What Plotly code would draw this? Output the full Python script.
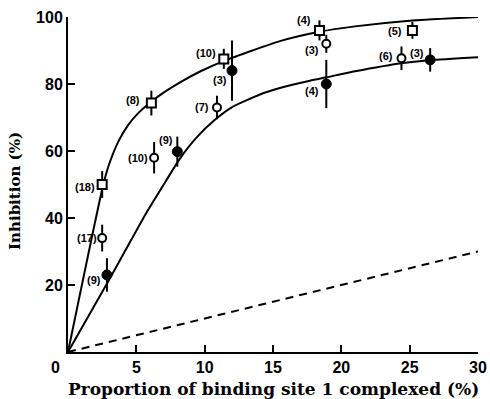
import plotly.graph_objects as go

# Measured points: proportion complexed (%), inhibition (%), error, number of experiments
sq_x = [2.5, 6.1, 11.4, 18.4, 25.2]
sq_y = [50.0, 74.3, 87.5, 96.0, 96.0]
sq_err = [4.0, 3.7, 3.0, 3.0, 2.5]
sq_n = [18, 8, 10, 4, 5]

oc_x = [2.5, 6.3, 10.9, 18.9, 24.4]
oc_y = [34.0, 58.0, 73.0, 92.0, 87.7]
oc_err = [4.0, 4.7, 3.5, 2.7, 3.5]
oc_n = [17, 10, 7, 3, 6]

fc_x = [2.85, 8.0, 12.0, 18.9, 26.5]
fc_y = [23.0, 59.8, 84.0, 80.0, 87.2]
fc_err = [5.0, 4.5, 9.0, 7.2, 3.5]
fc_n = [9, 9, 3, 4, 3]

# Fitted curves
upper_x = [0, 2.57, 3.07, 3.68, 4.41, 5.14, 6.0, 7.1, 8.2, 9.7, 11.6, 13.5, 15.5, 18.4, 21.0, 25.0, 30.0]
upper_y = [0, 49.8, 56.8, 62.8, 67.8, 71.3, 74.4, 77.7, 80.5, 83.8, 87.2, 90.0, 92.8, 95.6, 97.2, 98.9, 100.0]
lower_x = [0, 3.0, 5.8, 7.2, 8.2, 9.4, 10.75, 12.1, 14.0, 15.5, 17.7, 18.9, 21.0, 24.4, 26.5, 30.0]
lower_y = [0, 21.5, 42.0, 51.3, 57.8, 64.0, 69.3, 73.3, 76.8, 78.8, 81.0, 82.0, 83.8, 86.2, 87.1, 88.0]
dash_x = [0, 30]
dash_y = [0, 30]

x_ticks = [5, 10, 15, 20, 25, 30]
y_ticks = [20, 40, 60, 80, 100]

# Label offsets (pixels) for the experiment counts
sq_off = [(-17, -2), (-18, 3), (-18, 6), (-15, 10), (-17, -1)]
oc_off = [(-15, 0), (-16, 0), (-15, 0), (-14, -6), (-15, 2)]
fc_off = [(-13, -5), (-11, 12), (-12, -9), (-14, -7), (-13, 7)]

fig = go.Figure()

curve_line = dict(color="black", width=2, shape="spline", smoothing=0.5)
fig.add_trace(go.Scatter(x=upper_x, y=upper_y, mode="lines", line=curve_line))
fig.add_trace(go.Scatter(x=lower_x, y=lower_y, mode="lines", line=curve_line))
fig.add_trace(go.Scatter(x=dash_x, y=dash_y, mode="lines",
                         line=dict(color="black", width=2, dash="8px,6px")))

err_style = dict(type="data", thickness=2, width=0, color="black")

fig.add_trace(go.Scatter(
    x=sq_x, y=sq_y, mode="markers", cliponaxis=False,
    error_y=dict(array=sq_err, **err_style),
    marker=dict(symbol="square", size=9, color="white", line=dict(color="black", width=2))))
fig.add_trace(go.Scatter(
    x=oc_x, y=oc_y, mode="markers", cliponaxis=False,
    error_y=dict(array=oc_err, **err_style),
    marker=dict(symbol="circle", size=8, color="white", line=dict(color="black", width=2))))
fig.add_trace(go.Scatter(
    x=fc_x, y=fc_y, mode="markers", cliponaxis=False,
    error_y=dict(array=fc_err, **err_style),
    marker=dict(symbol="circle", size=10, color="black", line=dict(color="black", width=1))))

label_font = dict(family="Liberation Sans", size=11, color="black", weight="bold")
for xs, ys, ns, offs in [(sq_x, sq_y, sq_n, sq_off), (oc_x, oc_y, oc_n, oc_off),
                         (fc_x, fc_y, fc_n, fc_off)]:
    for x, y, n, (dx, dy) in zip(xs, ys, ns, offs):
        fig.add_annotation(x=x, y=y, text=f"({n})", showarrow=False,
                           xshift=dx, yshift=dy, xanchor="center", yanchor="middle",
                           font=label_font)

tick_font = dict(family="Liberation Sans", size=16, color="black", weight="bold")
axis_common = dict(ticks="inside", ticklen=7, tickwidth=2, tickcolor="black",
                   showline=True, linecolor="black", linewidth=2, showgrid=False,
                   zeroline=False, tickfont=tick_font, automargin=False)
fig.update_xaxes(range=[0, 30], tickvals=x_ticks, **axis_common)
fig.update_yaxes(range=[0, 100], tickvals=y_ticks, **axis_common)

# Shared origin label and axis titles
fig.add_annotation(xref="paper", yref="paper", x=-0.03, y=-0.045, text="0",
                   showarrow=False, xanchor="center", yanchor="middle", font=tick_font)
fig.add_annotation(xref="paper", yref="paper", x=0.5, y=-0.11,
                   text="Proportion of binding site 1 complexed (%)",
                   showarrow=False, xanchor="center", yanchor="middle",
                   font=dict(family="DejaVu Serif", size=17, color="black", weight="bold"))
fig.add_annotation(xref="paper", yref="paper", x=-0.13, y=0.48, text="Inhibition (%)",
                   textangle=-90, showarrow=False, xanchor="center", yanchor="middle",
                   font=dict(family="DejaVu Serif", size=15, color="black", weight="bold"))

fig.update_layout(width=490, height=399, showlegend=False,
                  margin=dict(l=68, r=12, t=17, b=47),
                  plot_bgcolor="white", paper_bgcolor="white")

fig.write_html("out.html")
